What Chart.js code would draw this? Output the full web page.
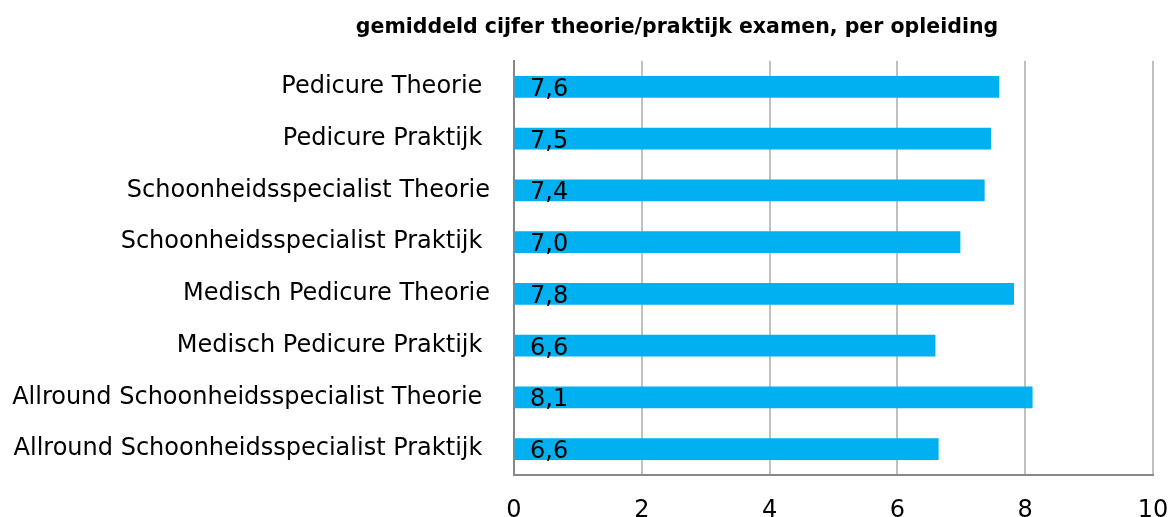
<!DOCTYPE html>
<html>
<head>
<meta charset="utf-8">
<script src="https://cdn.jsdelivr.net/npm/chart.js@4/dist/chart.umd.min.js"></script>
<style>
  html, body { margin: 0; padding: 0; background: #fff; }
  #wrap { width: 1171px; height: 517px; }
</style>
</head>
<body>
<div id="wrap"><canvas id="grafiek"></canvas></div>
<script>
// opleidingen (van boven naar beneden), spaties zoals in het origineel
const opleidingen = [
    'Pedicure Theorie ',
    'Pedicure Praktijk ',
    'Schoonheidsspecialist Theorie',
    'Schoonheidsspecialist Praktijk ',
    'Medisch Pedicure Theorie',
    'Medisch Pedicure Praktijk ',
    'Allround Schoonheidsspecialist Theorie ',
    'Allround Schoonheidsspecialist Praktijk '
];

// gemiddeld cijfer per opleiding
const cijfers = [7.59, 7.46, 7.36, 6.98, 7.82, 6.59, 8.11, 6.64];

// x-as 0 t/m 10
const xTicks = [0, 2, 4, 6, 8, 10];

const titel = 'gemiddeld cijfer theorie/praktijk examen, per opleiding';

// titel tekenen
const titelPlugin = {
    id: 'titel',
    afterDraw(chart) {
        const c = chart.ctx;
        c.save();
        c.font = 'bold 20.5px "DejaVu Sans"';
        c.fillStyle = '#000';
        c.textAlign = 'center';
        c.textBaseline = 'middle';
        c.fillText(titel, 677, 28);
        c.restore();
    }
};

// waarde in de balk
const labelPlugin = {
    id: 'waardes',
    afterDatasetsDraw(chart) {
        const c = chart.ctx;
        const meta = chart.getDatasetMeta(0);
        c.save();
        c.font = '24px "DejaVu Sans"';
        c.fillStyle = '#000';
        c.textAlign = 'left';
        c.textBaseline = 'alphabetic';
        meta.data.forEach(function (bar, i) {
            const txt = cijfers[i].toFixed(1).replace('.', ',');
            c.fillText(txt, bar.base + 15, bar.y + 9);
        });
        c.restore();
    }
};

new Chart(document.getElementById('grafiek'), {
    type: 'bar',
    data: {
        labels: opleidingen,
        datasets: [{
            data: cijfers,
            backgroundColor: '#00B0F0',
            barThickness: 21
        }]
    },
    plugins: [titelPlugin, labelPlugin],
    options: {
        indexAxis: 'y',
        responsive: true,
        maintainAspectRatio: false,
        animation: false,
        layout: { padding: { top: 61, right: 18, left: 0, bottom: 0 } },
        plugins: {
            legend: { display: false },
            tooltip: { enabled: false }
        },
        scales: {
            x: {
                min: 0,
                max: 10,
                afterBuildTicks(scale) {
                    scale.ticks = xTicks.map(v => ({ value: v }));
                },
                afterFit(scale) {
                    scale.height = 42;
                    scale.paddingLeft = 0;
                    scale.paddingRight = 0;
                },
                grid: {
                    color: '#c0c0c0',
                    lineWidth: 2,
                    drawTicks: false
                },
                border: { display: true, color: '#888', width: 2 },
                ticks: {
                    color: '#000',
                    font: { family: 'DejaVu Sans', size: 24 },
                    padding: 21
                }
            },
            y: {
                afterFit(scale) { scale.width = 514; },
                grid: { display: false, drawTicks: false },
                border: { color: '#888', width: 2 },
                ticks: {
                    color: '#000',
                    font: { family: 'DejaVu Sans', size: 24 },
                    padding: 24
                }
            }
        }
    },
});
</script>
</body>
</html>
